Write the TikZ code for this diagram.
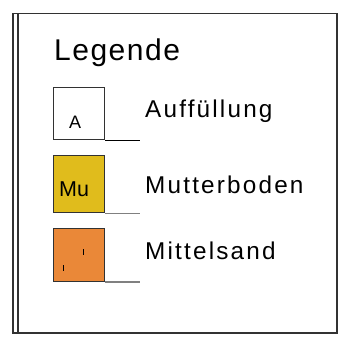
\documentclass[tikz,border=0pt]{standalone}
\usepackage{fontspec}
\setmainfont{Liberation Sans}
\usetikzlibrary{positioning,calc}
\definecolor{muyellow}{RGB}{224,188,28}
\definecolor{sandorange}{RGB}{234,136,56}
\definecolor{framegray}{RGB}{50,50,50}
\tikzset{
    x=1bp,
    y=-1bp,
    frame/.style = {
        draw=framegray,
        line width=1.2bp
    },
    legendbox/.style = {
        draw=framegray,
        shape=rectangle,
        anchor=north west,
        inner sep=0pt,
        minimum width=51bp,
        minimum height=52bp,
        line width=1.1bp
    },
    boxtext/.style = {
        anchor=base west,
        inner sep=0pt,
        font=\fontsize{18bp}{21bp}\selectfont
    },
    legendtext/.style = {
        anchor=base west,
        inner sep=0pt,
        font=\fontsize{24.3bp}{29bp}\selectfont\addfontfeature{LetterSpace=9}
    },
    underline/.style = {
        draw=gray,
        line width=1.2bp
    },
}

\begin{document}
\begin{tikzpicture}
            \useasboundingbox (0,0) rectangle (356,337);
            % frame
            \path[frame] (13,13.7) rectangle (337,333);
            \path[frame] (18,13.7) -- (18,333);

            \node[anchor=base west, inner sep=0pt, font=\fontsize{30bp}{36bp}\selectfont\addfontfeature{LetterSpace=5}] (title) at (54,60.7) {Legende};

            \node[legendbox, fill=white] (boxA) at (53.3,87.3) {};
            \node[legendbox, fill=muyellow, minimum height=57bp] (boxMu) at (53.3,155.3) {};
            \node[legendbox, fill=sandorange, minimum height=52.5bp] (boxS) at (53.3,228.3) {};

            \node[boxtext] (txtA) at (69,128.5) {A};
            \node[boxtext, font=\fontsize{21.5bp}{25bp}\selectfont] (txtMu) at (59,196.7) {Mu};
            \path[draw, line width=1bp] (83.3,249) -- (83.3,255);
            \path[draw, line width=1bp] (63.3,265) -- (63.3,270.5);

            \path[draw, line width=1bp] (boxA.south east) -- ++(35,0);
            \path[underline] (boxMu.south east) -- ++(35,0);
            \path[underline] (boxS.south east) -- ++(35,0);

            \node[legendtext] (labA) at (145,117.7) {Auffüllung};
            \node[legendtext] (labMu) at (145,193.3) {Mutterboden};
            \node[legendtext] (labS) at (145,259) {Mittelsand};
\end{tikzpicture}
\end{document}
